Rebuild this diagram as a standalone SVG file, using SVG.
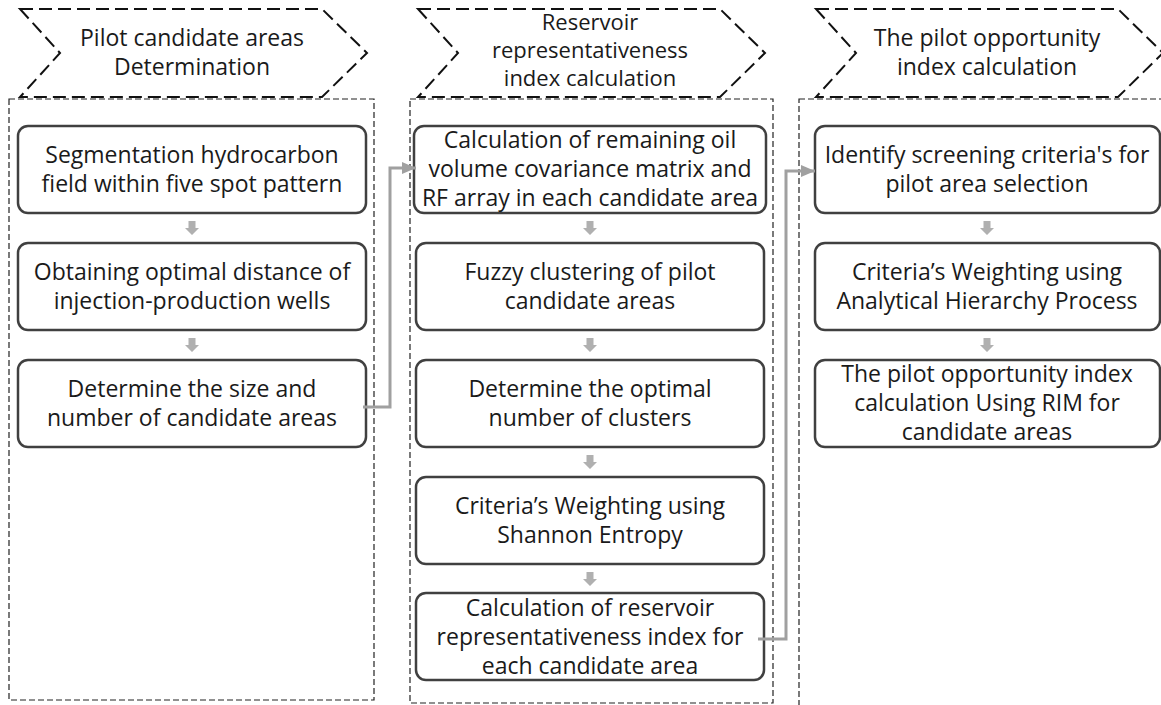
<svg xmlns="http://www.w3.org/2000/svg" width="1161" height="705" viewBox="0 0 1161 705">
<style>
  .hdr { fill: none; stroke: #111; stroke-width: 2; stroke-dasharray: 13 6; }
  .cont { fill: none; stroke: #222; stroke-width: 1.2; stroke-dasharray: 6 3; }
  .box { fill: #fff; stroke: #404040; stroke-width: 2.5; }
  .t { font-family: "Open Sans", "Liberation Sans", sans-serif; font-size: 23px; fill: #1a1a1a; text-anchor: middle; }
  .t2 { font-size: 22px; }
  .conn { fill: none; stroke: #a0a0a0; stroke-width: 3; }
  .sarrow { fill: #b0b0b0; }
</style>
<defs>
  <marker id="ah" viewBox="0 0 14 12" refX="14" refY="6" markerWidth="14" markerHeight="12" markerUnits="userSpaceOnUse" orient="auto">
    <path d="M0,0 L14,6 L0,12 Z" fill="#a0a0a0"/>
  </marker>
  <polygon id="dn" points="-3.5,0 3.5,0 3.5,7 7,7 0,14 -7,7 -3.5,7"/>
</defs>

<!-- headers -->
<g id="header1">
  <path class="hdr" d="M20,9 L322,9 L367,53 L322,97 L20,97 L60,53 Z"/>
  <text class="t" x="192" y="46">Pilot candidate areas</text>
  <text class="t" x="192" y="75">Determination</text>
</g>
<g id="header2">
  <path class="hdr" d="M418,9 L720,9 L765,53 L720,97 L418,97 L458,53 Z"/>
  <text class="t t2" x="590" y="30">Reservoir</text>
  <text class="t t2" x="590" y="58">representativeness</text>
  <text class="t t2" x="590" y="86">index calculation</text>
</g>
<g id="header3">
  <path class="hdr" d="M816,9 L1118,9 L1163,53 L1118,97 L816,97 L856,53 Z"/>
  <text class="t" x="987" y="46">The pilot opportunity</text>
  <text class="t" x="987" y="75">index calculation</text>
</g>

<!-- containers -->
<g id="containers">
  <rect class="cont" x="9" y="99" width="365" height="601"/>
  <rect class="cont" x="410" y="99" width="363" height="604"/>
  <rect class="cont" x="799" y="99" width="400" height="700"/>
</g>

<!-- column 1 -->
<g id="n1">
  <rect class="box" x="18" y="126" width="348" height="87" rx="10"/>
  <text class="t" x="192" y="163">Segmentation hydrocarbon</text>
  <text class="t" x="192" y="192">field within five spot pattern</text>
</g>
<g id="n2">
  <rect class="box" x="18" y="243" width="348" height="87" rx="10"/>
  <text class="t" x="192" y="280">Obtaining optimal distance of</text>
  <text class="t" x="192" y="309">injection-production wells</text>
</g>
<g id="n3">
  <rect class="box" x="18" y="360" width="348" height="87" rx="10"/>
  <text class="t" x="192" y="397">Determine the size and</text>
  <text class="t" x="192" y="426">number of candidate areas</text>
</g>

<!-- column 2 -->
<g id="n4">
  <rect class="box" x="414" y="126" width="352" height="87" rx="10"/>
  <text class="t" x="590" y="148">Calculation of remaining oil</text>
  <text class="t" x="590" y="177">volume covariance matrix and</text>
  <text class="t" x="590" y="206">RF array in each candidate area</text>
</g>
<g id="n5">
  <rect class="box" x="416" y="243" width="348" height="87" rx="10"/>
  <text class="t" x="590" y="280">Fuzzy clustering of pilot</text>
  <text class="t" x="590" y="309">candidate areas</text>
</g>
<g id="n6">
  <rect class="box" x="416" y="360" width="348" height="87" rx="10"/>
  <text class="t" x="590" y="397">Determine the optimal</text>
  <text class="t" x="590" y="426">number of clusters</text>
</g>
<g id="n7">
  <rect class="box" x="416" y="477" width="348" height="87" rx="10"/>
  <text class="t" x="590" y="514">Criteria’s Weighting using</text>
  <text class="t" x="590" y="543">Shannon Entropy</text>
</g>
<g id="n8">
  <rect class="box" x="416" y="593" width="348" height="87" rx="10"/>
  <text class="t" x="590" y="616">Calculation of reservoir</text>
  <text class="t" x="590" y="645">representativeness index for</text>
  <text class="t" x="590" y="674">each candidate area</text>
</g>

<!-- column 3 -->
<g id="n9">
  <rect class="box" x="815" y="126" width="345" height="87" rx="10"/>
  <text class="t" x="987" y="163">Identify screening criteria's for</text>
  <text class="t" x="987" y="192">pilot area selection</text>
</g>
<g id="n10">
  <rect class="box" x="815" y="243" width="345" height="87" rx="10"/>
  <text class="t" x="987" y="280">Criteria’s Weighting using</text>
  <text class="t" x="987" y="309">Analytical Hierarchy Process</text>
</g>
<g id="n11">
  <rect class="box" x="815" y="360" width="345" height="87" rx="10"/>
  <text class="t" x="987" y="382">The pilot opportunity index</text>
  <text class="t" x="987" y="411">calculation Using RIM for</text>
  <text class="t" x="987" y="440">candidate areas</text>
</g>

<!-- connectors -->
<g id="connectors">
  <use href="#dn" class="sarrow" x="192" y="221"/>
  <use href="#dn" class="sarrow" x="192" y="338"/>
  <use href="#dn" class="sarrow" x="590" y="221"/>
  <use href="#dn" class="sarrow" x="590" y="338"/>
  <use href="#dn" class="sarrow" x="590" y="455"/>
  <use href="#dn" class="sarrow" x="590" y="572"/>
  <use href="#dn" class="sarrow" x="987" y="221"/>
  <use href="#dn" class="sarrow" x="987" y="338"/>
  <polyline class="conn" points="363,407 390,407 390,168 416,168" marker-end="url(#ah)"/>
  <polyline class="conn" points="758,639 786,639 786,171 815,171" marker-end="url(#ah)"/>
</g>
</svg>
